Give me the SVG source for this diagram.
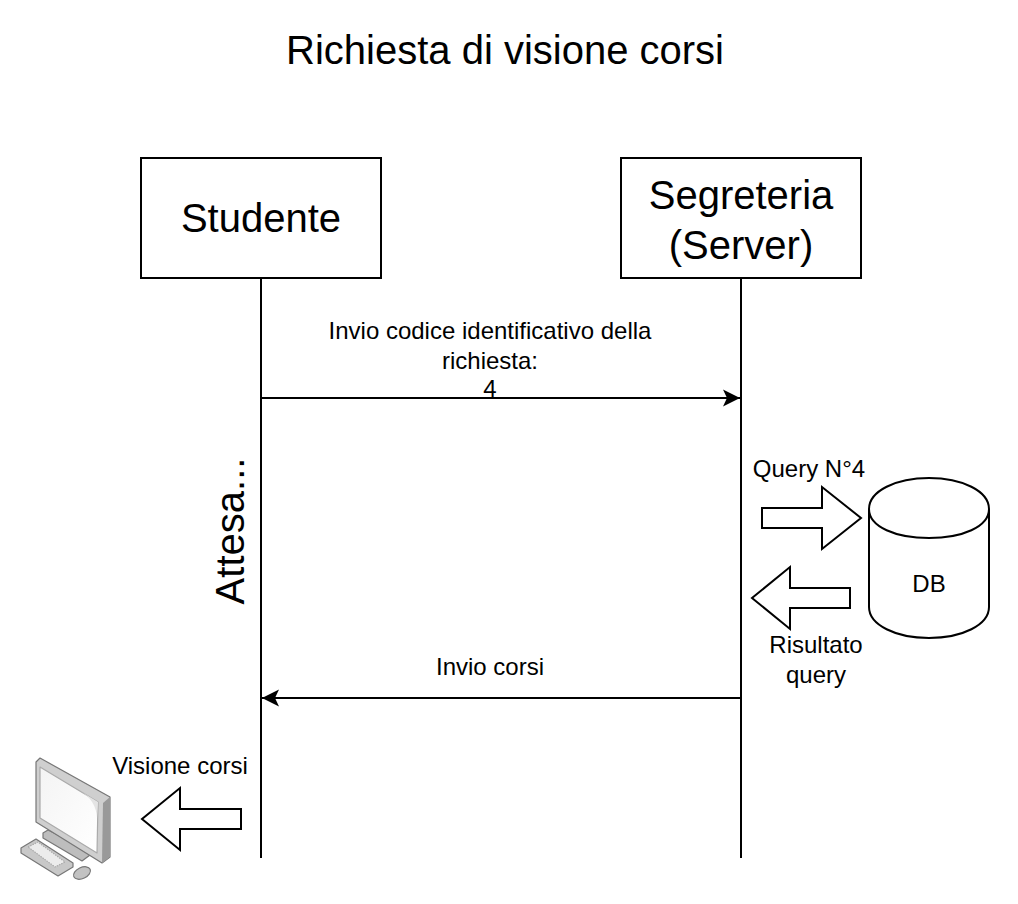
<svg xmlns="http://www.w3.org/2000/svg" width="1018" height="904" viewBox="0 0 1018 904">
<style>
text{font-family:"Liberation Sans",Arial,sans-serif;fill:#000;text-anchor:middle}
.s{fill:#fff;stroke:#000;stroke-width:2}
.l{fill:none;stroke:#000;stroke-width:2}
.t{font-size:24px}
.b{font-size:40px}
</style>
<defs>
<marker id="a" markerUnits="userSpaceOnUse" markerWidth="18" markerHeight="18" refX="17" refY="9" orient="auto"><path d="M0 0.5L17 9L0 17.5L4 9Z" fill="#000"/></marker>
<linearGradient id="scr" x1="0" y1="0" x2="1" y2="1"><stop offset="0" stop-color="#f4f4f4"/><stop offset="1" stop-color="#fff"/></linearGradient>
</defs>
<rect width="1018" height="904" fill="#fff"/>
<text id="title" class="b" x="505" y="64">Richiesta di visione corsi</text>
<g id="connectors">
<path class="l" d="M261 278V858"/>
<path class="l" d="M741 278V858"/>
<path class="l" d="M261 398H740" marker-end="url(#a)"/>
<path class="l" d="M741 698H262" marker-end="url(#a)"/>
</g>
<g id="studente"><rect class="s" x="141" y="158" width="240" height="120"/><text class="b" x="261" y="232">Studente</text></g>
<g id="segreteria"><rect class="s" x="621" y="158" width="240" height="120"/><text class="b" x="741" y="209">Segreteria</text><text class="b" x="741" y="259">(Server)</text></g>
<g id="label-invio"><text class="t" x="490" y="339">Invio codice identificativo della</text><text class="t" x="490" y="369">richiesta:</text><text class="t" x="490" y="397">4</text></g>
<text id="attesa" class="b" transform="translate(244,531) rotate(-90)">Attesa...</text>
<g id="arrow-query"><path class="s" d="M762 508H822V487L861 518L822 549V528H762Z"/><text class="t" x="809" y="477">Query N°4</text></g>
<g id="db"><path class="s" d="M869 509V607C869 625 896 638 929 638C962 638 989 625 989 607V509C989 491 962 478 929 478C896 478 869 491 869 509Z"/><path class="l" d="M869 509C869 527 896 538 929 538C962 538 989 527 989 509"/><text class="t" x="929" y="592">DB</text></g>
<g id="arrow-risultato"><path class="s" d="M850 588H790V567L752 598L790 629V608H850Z"/><text class="t" x="816" y="653">Risultato</text><text class="t" x="816" y="683">query</text></g>
<text id="label-corsi" class="t" x="490" y="675">Invio corsi</text>
<g id="arrow-visione"><path class="s" d="M241 809H180V788L142 819L180 850V829H241Z"/><text class="t" x="180" y="774">Visione corsi</text></g>
<g id="computer" stroke="#777" stroke-width="1.2" stroke-linejoin="round">
<path fill="#bdbdbd" d="M43 833V838L82 861L90 855L88 850L48 830Z"/>
<path fill="#c8c8c8" d="M21 848L36 839L73 863V867L58 876L21 853Z"/>
<path fill="#ececec" stroke="#aaa" stroke-dasharray="1.5 1" d="M28 847L38 842L65 862L55 867Z"/>
<ellipse cx="82" cy="873" rx="9" ry="5.5" transform="rotate(-25 82 873)" fill="#c2c2c2"/>
<path fill="#cfcfcf" d="M36 762L40 758L110 797V857L102 863L36 822Z"/>
<path fill="#999" stroke="none" d="M103 803L110 797V857L102 863Z"/>
<path fill="url(#scr)" stroke="#aaa" d="M40 767L98 802L97 853L40 818Z"/>
<path fill="#e4e4e4" stroke="none" d="M80 791L98 802L97 818Q96 800 80 791Z"/>
</g>
</svg>
